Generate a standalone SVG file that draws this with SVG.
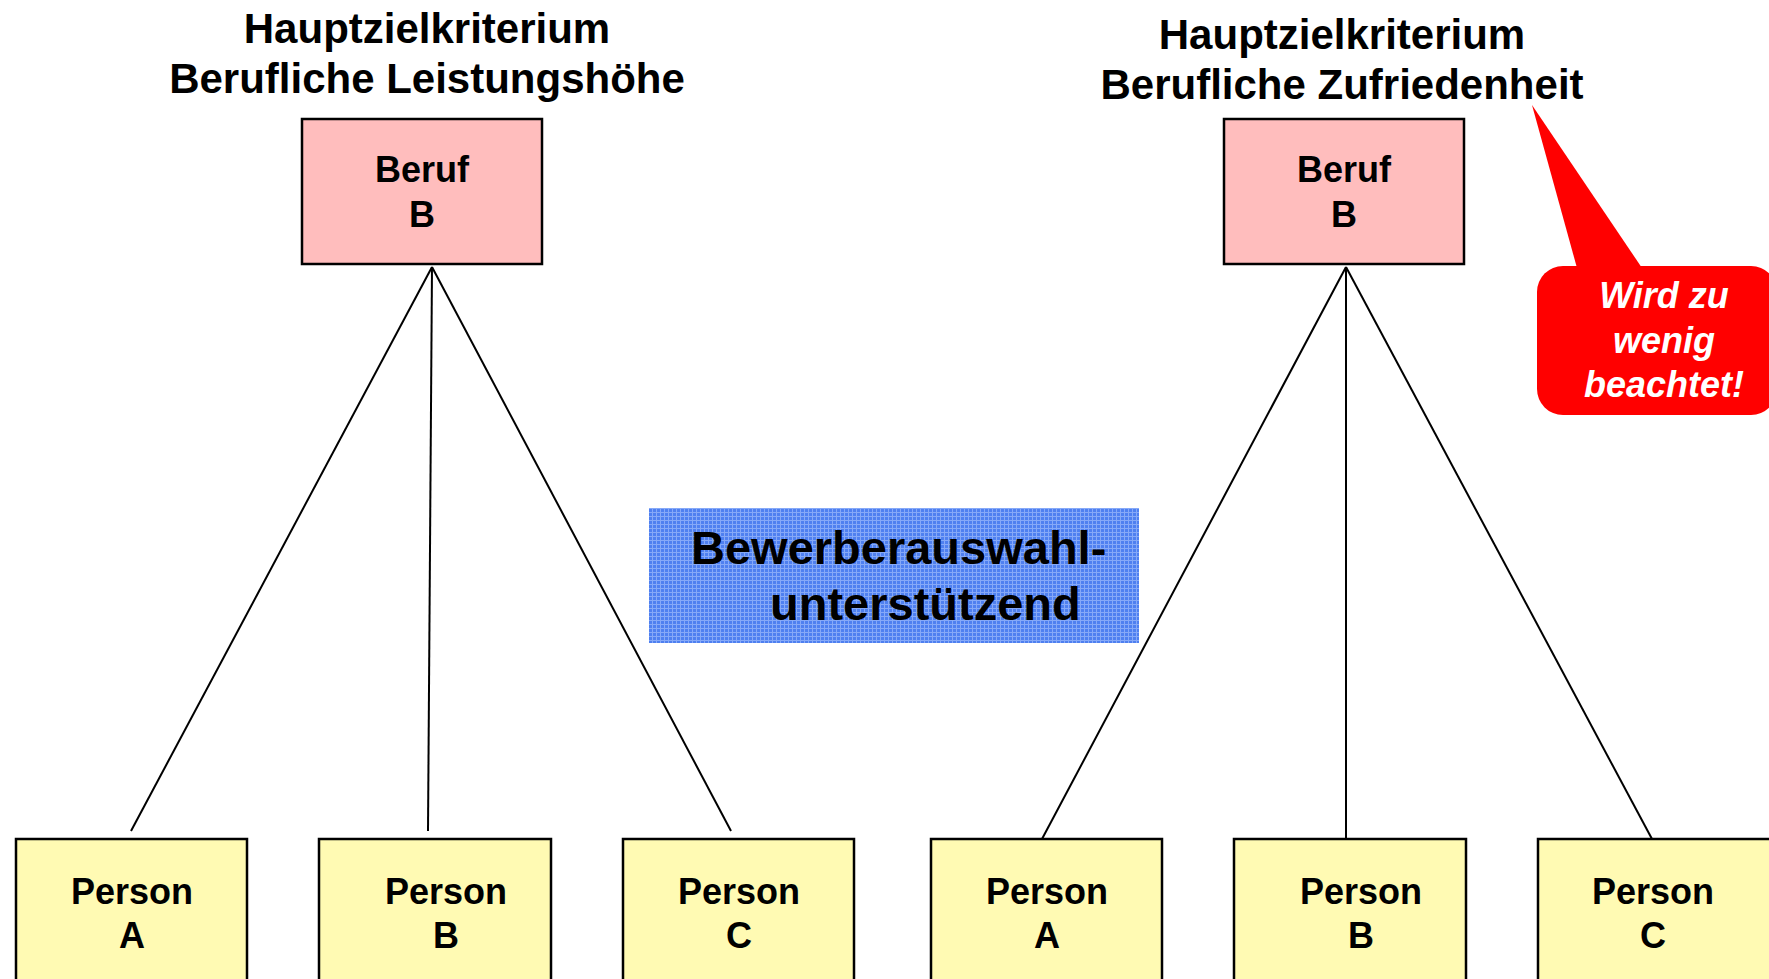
<svg xmlns="http://www.w3.org/2000/svg" width="1769" height="979" viewBox="0 0 1769 979">
<style>
text{font-family:"Liberation Sans",Arial,sans-serif;font-weight:bold;fill:#000}
.t{font-size:42px;text-anchor:middle}
.n{font-size:36px;text-anchor:middle}
.job{fill:#ffbdbd;stroke:#000;stroke-width:2.5}
.per{fill:#fffab3;stroke:#000;stroke-width:2.5}
.ln{stroke:#000;stroke-width:2;fill:none}
.call{font-size:36px;font-style:italic;fill:#fff;text-anchor:middle}
</style>
<defs>
<pattern id="grid" width="4" height="4" patternUnits="userSpaceOnUse">
<rect width="4" height="4" fill="#4f80f0"/>
<rect width="4" height="1" fill="#86a9f8"/>
<rect width="1" height="4" fill="#86a9f8"/>
</pattern>
</defs>
<g id="title-left">
<text class="t" x="427" y="43">Hauptzielkriterium</text>
<text class="t" x="427" y="93">Berufliche Leistungshöhe</text>
</g>
<g id="title-right">
<text class="t" x="1342" y="49">Hauptzielkriterium</text>
<text class="t" x="1342" y="99">Berufliche Zufriedenheit</text>
</g>
<g id="connectors">
<line class="ln" x1="432" y1="267" x2="131" y2="831"/>
<line class="ln" x1="432" y1="267" x2="428" y2="831"/>
<line class="ln" x1="432" y1="267" x2="731" y2="831"/>
<line class="ln" x1="1346" y1="267" x2="1042" y2="839"/>
<line class="ln" x1="1346" y1="267" x2="1346" y2="839"/>
<line class="ln" x1="1346" y1="267" x2="1652" y2="839"/>
</g>
<g id="beruf-left">
<rect class="job" x="302" y="119" width="240" height="145"/>
<text class="n" x="422" y="182">Beruf</text>
<text class="n" x="422" y="227">B</text>
</g>
<g id="beruf-right">
<rect class="job" x="1224" y="119" width="240" height="145"/>
<text class="n" x="1344" y="182">Beruf</text>
<text class="n" x="1344" y="227">B</text>
</g>
<g id="hint">
<rect x="649" y="508" width="490" height="135" fill="url(#grid)"/>
<text x="691" y="564" style="font-size:47px">Bewerberauswahl-</text>
<text x="770" y="620" style="font-size:47px">unterstützend</text>
</g>
<g id="callout">
<path d="M1532,105 L1577,268 L1642,268 Z" fill="#ff0000"/>
<rect x="1537" y="266" width="240" height="149" rx="26" ry="26" fill="#ff0000"/>
<text class="call" x="1664" y="308">Wird zu</text>
<text class="call" x="1664" y="353">wenig</text>
<text class="call" x="1664" y="397">beachtet!</text>
</g>
<g id="person-a-left">
<rect class="per" x="16" y="839" width="231" height="160"/>
<text class="n" x="132" y="904">Person</text>
<text class="n" x="132" y="948">A</text>
</g>
<g id="person-b-left">
<rect class="per" x="319" y="839" width="232" height="160"/>
<text class="n" x="446" y="904">Person</text>
<text class="n" x="446" y="948">B</text>
</g>
<g id="person-c-left">
<rect class="per" x="623" y="839" width="231" height="160"/>
<text class="n" x="739" y="904">Person</text>
<text class="n" x="739" y="948">C</text>
</g>
<g id="person-a-right">
<rect class="per" x="931" y="839" width="231" height="160"/>
<text class="n" x="1047" y="904">Person</text>
<text class="n" x="1047" y="948">A</text>
</g>
<g id="person-b-right">
<rect class="per" x="1234" y="839" width="232" height="160"/>
<text class="n" x="1361" y="904">Person</text>
<text class="n" x="1361" y="948">B</text>
</g>
<g id="person-c-right">
<rect class="per" x="1538" y="839" width="233" height="160"/>
<text class="n" x="1653" y="904">Person</text>
<text class="n" x="1653" y="948">C</text>
</g>
</svg>
